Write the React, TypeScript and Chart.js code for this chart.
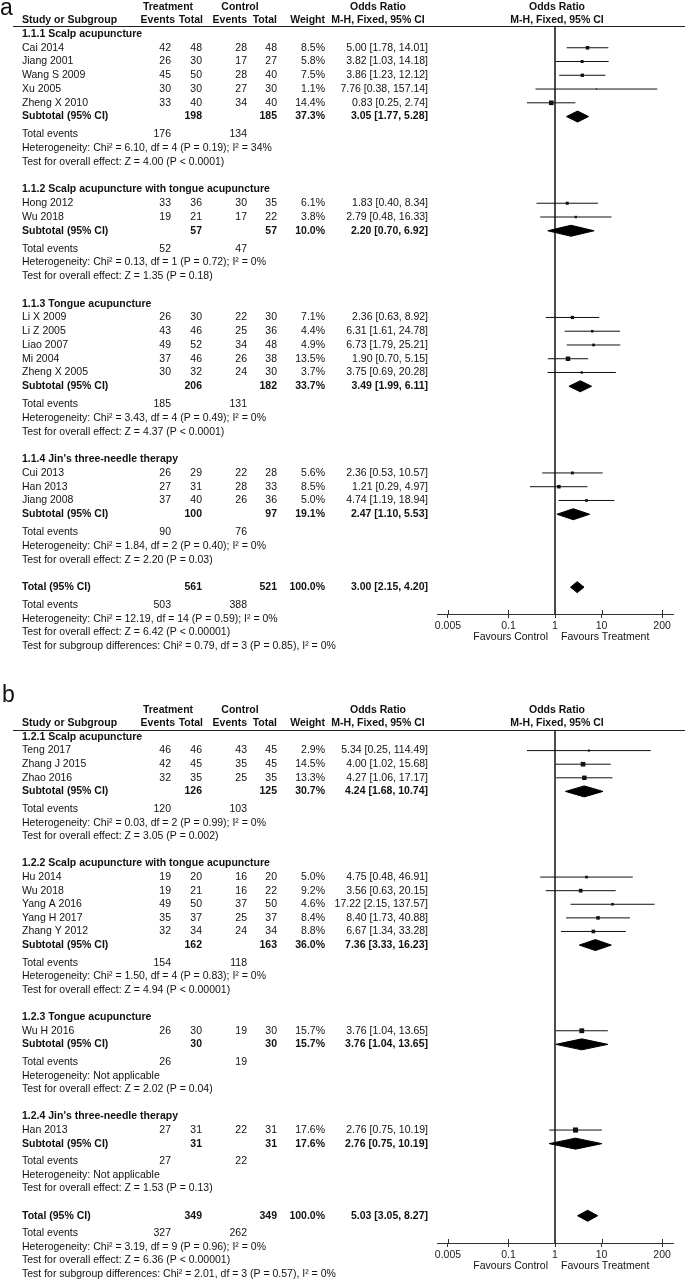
import React, { useEffect, useRef } from 'react';
import { Chart, registerables } from 'chart.js';
Chart.register(...registerables);

// ---------------- Panel a data ----------------
const aGroupTitles = ['1.1.1 Scalp acupuncture', '1.1.2 Scalp acupuncture with tongue acupuncture', '1.1.3 Tongue acupuncture', "1.1.4 Jin's three-needle therapy"];
const aStudies = ['Cai 2014', 'Jiang 2001', 'Wang S 2009', 'Xu 2005', 'Zheng X 2010', 'Hong 2012', 'Wu 2018', 'Li X 2009', 'Li Z 2005', 'Liao 2007', 'Mi 2004', 'Zheng X 2005', 'Cui 2013', 'Han 2013', 'Jiang 2008'];
const aStudyGroup = [0, 0, 0, 0, 0, 1, 1, 2, 2, 2, 2, 2, 3, 3, 3];
const aTrtEvents = [42, 26, 45, 30, 33, 33, 19, 26, 43, 49, 37, 30, 26, 27, 37];
const aTrtTotal = [48, 30, 50, 30, 40, 36, 21, 30, 46, 52, 46, 32, 29, 31, 40];
const aCtlEvents = [28, 17, 28, 27, 34, 30, 17, 22, 25, 34, 26, 24, 22, 28, 26];
const aCtlTotal = [48, 27, 40, 30, 40, 35, 22, 30, 36, 48, 38, 30, 28, 33, 36];
const aWeights = [8.5, 5.8, 7.5, 1.1, 14.4, 6.1, 3.8, 7.1, 4.4, 4.9, 13.5, 3.7, 5.6, 8.5, 5.0];
const aOR = [5.0, 3.82, 3.86, 7.76, 0.83, 1.83, 2.79, 2.36, 6.31, 6.73, 1.9, 3.75, 2.36, 1.21, 4.74];
const aLower = [1.78, 1.03, 1.23, 0.38, 0.25, 0.4, 0.48, 0.63, 1.61, 1.79, 0.7, 0.69, 0.53, 0.29, 1.19];
const aUpper = [14.01, 14.18, 12.12, 157.14, 2.74, 8.34, 16.33, 8.92, 24.78, 25.21, 5.15, 20.28, 10.57, 4.97, 18.94];
const aSubTrtTotal = [198, 57, 206, 100];
const aSubCtlTotal = [185, 57, 182, 97];
const aSubWeight = [37.3, 10.0, 33.7, 19.1];
const aSubOR = [3.05, 2.2, 3.49, 2.47];
const aSubLower = [1.77, 0.7, 1.99, 1.1];
const aSubUpper = [5.28, 6.92, 6.11, 5.53];
const aSubTrtEvents = [176, 52, 185, 90];
const aSubCtlEvents = [134, 47, 131, 76];
const aSubHet = [
  'Heterogeneity: Chi² = 6.10, df = 4 (P = 0.19); I² = 34%',
  'Heterogeneity: Chi² = 0.13, df = 1 (P = 0.72); I² = 0%',
  'Heterogeneity: Chi² = 3.43, df = 4 (P = 0.49); I² = 0%',
  'Heterogeneity: Chi² = 1.84, df = 2 (P = 0.40); I² = 0%',
];
const aSubTest = [
  'Test for overall effect: Z = 4.00 (P < 0.0001)',
  'Test for overall effect: Z = 1.35 (P = 0.18)',
  'Test for overall effect: Z = 4.37 (P < 0.0001)',
  'Test for overall effect: Z = 2.20 (P = 0.03)',
];
const aTotalN = [561, 521];
const aTotalCI = [3.0, 2.15, 4.2];
const aTotalEvents = [503, 388];
const aTotalTexts = [
  'Heterogeneity: Chi² = 12.19, df = 14 (P = 0.59); I² = 0%',
  'Test for overall effect: Z = 6.42 (P < 0.00001)',
  'Test for subgroup differences: Chi² = 0.79, df = 3 (P = 0.85), I² = 0%',
];

// ---------------- Panel b data ----------------
const bGroupTitles = ['1.2.1 Scalp acupuncture', '1.2.2 Scalp acupuncture with tongue acupuncture', '1.2.3 Tongue acupuncture', "1.2.4 Jin's three-needle therapy"];
const bStudies = ['Teng 2017', 'Zhang J 2015', 'Zhao 2016', 'Hu 2014', 'Wu 2018', 'Yang A 2016', 'Yang H 2017', 'Zhang Y 2012', 'Wu H 2016', 'Han 2013'];
const bStudyGroup = [0, 0, 0, 1, 1, 1, 1, 1, 2, 3];
const bTrtEvents = [46, 42, 32, 19, 19, 49, 35, 32, 26, 27];
const bTrtTotal = [46, 45, 35, 20, 21, 50, 37, 34, 30, 31];
const bCtlEvents = [43, 35, 25, 16, 16, 37, 25, 24, 19, 22];
const bCtlTotal = [45, 45, 35, 20, 22, 50, 37, 34, 30, 31];
const bWeights = [2.9, 14.5, 13.3, 5.0, 9.2, 4.6, 8.4, 8.8, 15.7, 17.6];
const bOR = [5.34, 4.0, 4.27, 4.75, 3.56, 17.22, 8.4, 6.67, 3.76, 2.76];
const bLower = [0.25, 1.02, 1.06, 0.48, 0.63, 2.15, 1.73, 1.34, 1.04, 0.75];
const bUpper = [114.49, 15.68, 17.17, 46.91, 20.15, 137.57, 40.88, 33.28, 13.65, 10.19];
const bSubTrtTotal = [126, 162, 30, 31];
const bSubCtlTotal = [125, 163, 30, 31];
const bSubWeight = [30.7, 36.0, 15.7, 17.6];
const bSubOR = [4.24, 7.36, 3.76, 2.76];
const bSubLower = [1.68, 3.33, 1.04, 0.75];
const bSubUpper = [10.74, 16.23, 13.65, 10.19];
const bSubTrtEvents = [120, 154, 26, 27];
const bSubCtlEvents = [103, 118, 19, 22];
const bSubHet = [
  'Heterogeneity: Chi² = 0.03, df = 2 (P = 0.99); I² = 0%',
  'Heterogeneity: Chi² = 1.50, df = 4 (P = 0.83); I² = 0%',
  'Heterogeneity: Not applicable',
  'Heterogeneity: Not applicable',
];
const bSubTest = [
  'Test for overall effect: Z = 3.05 (P = 0.002)',
  'Test for overall effect: Z = 4.94 (P < 0.00001)',
  'Test for overall effect: Z = 2.02 (P = 0.04)',
  'Test for overall effect: Z = 1.53 (P = 0.13)',
];
const bTotalN = [349, 349];
const bTotalCI = [5.03, 3.05, 8.27];
const bTotalEvents = [327, 262];
const bTotalTexts = [
  'Heterogeneity: Chi² = 3.19, df = 9 (P = 0.96); I² = 0%',
  'Test for overall effect: Z = 6.36 (P < 0.00001)',
  'Test for subgroup differences: Chi² = 2.01, df = 3 (P = 0.57), I² = 0%',
];

// axis ticks
const tickValues = [0.005, 0.1, 1, 10, 200];
const tickLabels = ['0.005', '0.1', '1', '10', '200'];

// ---------------- styling / layout ----------------
const FONT = '"Liberation Sans", Arial, Helvetica, sans-serif';
const FS = 10.5;
const TEXT = '#111';
const LINE = '#111';
const GAP = 0.3;
const X_MIN = 0.00291;
const X_MAX = 343;
const COL = { label: 22, te: 171, tt: 202, ce: 247, ct: 277, w: 325, ci: 428, teH: 175, ttH: 203, trtC: 168, ctlC: 240, orC: 378 };

const panelA = {
  letter: 'a', letterX: 0, letterY: 15, top: 0, height: 660, underline: 26, firstRow: 34, unit: 13.76, axis: 614,
  groupTitles: aGroupTitles, studies: aStudies, studyGroup: aStudyGroup, trtEvents: aTrtEvents, trtTotal: aTrtTotal,
  ctlEvents: aCtlEvents, ctlTotal: aCtlTotal, weights: aWeights, or: aOR, lower: aLower, upper: aUpper,
  subTrtTotal: aSubTrtTotal, subCtlTotal: aSubCtlTotal, subWeight: aSubWeight, subOR: aSubOR, subLower: aSubLower,
  subUpper: aSubUpper, subTrtEvents: aSubTrtEvents, subCtlEvents: aSubCtlEvents, subHet: aSubHet, subTest: aSubTest,
  totalN: aTotalN, totalCI: aTotalCI, totalEvents: aTotalEvents, totalTexts: aTotalTexts,
};
const panelB = {
  letter: 'b', letterX: 2, letterY: 42, top: 660, height: 621, underline: 70, firstRow: 77, unit: 13.6, axis: 583,
  groupTitles: bGroupTitles, studies: bStudies, studyGroup: bStudyGroup, trtEvents: bTrtEvents, trtTotal: bTrtTotal,
  ctlEvents: bCtlEvents, ctlTotal: bCtlTotal, weights: bWeights, or: bOR, lower: bLower, upper: bUpper,
  subTrtTotal: bSubTrtTotal, subCtlTotal: bSubCtlTotal, subWeight: bSubWeight, subOR: bSubOR, subLower: bSubLower,
  subUpper: bSubUpper, subTrtEvents: bSubTrtEvents, subCtlEvents: bSubCtlEvents, subHet: bSubHet, subTest: bSubTest,
  totalN: bTotalN, totalCI: bTotalCI, totalEvents: bTotalEvents, totalTexts: bTotalTexts,
};

type Row = { u: number; kind: string; idx: number };

function buildRows(p: any): Row[] {
  const rows: Row[] = [];
  let u = 0;
  p.groupTitles.forEach((_t: string, g: number) => {
    rows.push({ u, kind: 'group', idx: g }); u += 1;
    p.studyGroup.forEach((sg: number, i: number) => {
      if (sg === g) { rows.push({ u, kind: 'study', idx: i }); u += 1; }
    });
    rows.push({ u, kind: 'subtotal', idx: g }); u += 1 + GAP;
    rows.push({ u, kind: 'subEvents', idx: g }); u += 1;
    rows.push({ u, kind: 'subHet', idx: g }); u += 1;
    rows.push({ u, kind: 'subTest', idx: g }); u += 1;
    u += 1;
  });
  rows.push({ u, kind: 'total', idx: 0 }); u += 1 + GAP;
  rows.push({ u, kind: 'totEvents', idx: 0 }); u += 1;
  rows.push({ u, kind: 'totText', idx: 0 }); u += 1;
  rows.push({ u, kind: 'totText', idx: 1 }); u += 1;
  rows.push({ u, kind: 'totText', idx: 2 }); u += 1;
  return rows;
}

const ciText = (o: number, l: number, h: number) => `${o.toFixed(2)} [${l.toFixed(2)}, ${h.toFixed(2)}]`;
const pct = (w: number) => `${w.toFixed(1)}%`;

function diamond(o: number, l: number, h: number, u: number, hh: number) {
  return {
    data: [{ x: l, y: u }, { x: o, y: u - hh }, { x: h, y: u }, { x: o, y: u + hh }, { x: l, y: u }],
    showLine: true, fill: 'shape', backgroundColor: '#000', borderColor: '#000', borderWidth: 1,
    pointRadius: 0, tension: 0,
  };
}

function Panel({ p }: { p: any }) {
  const ref = useRef<HTMLCanvasElement>(null);
  useEffect(() => {
    const rows = buildRows(p);
    const yMin = (p.underline - p.firstRow) / p.unit;
    const yMax = (p.axis - p.firstRow) / p.unit;
    const hh = 5.5 / p.unit;
    const studyRows = rows.filter((r) => r.kind === 'study');
    const subRows = rows.filter((r) => r.kind === 'subtotal');
    const totRow = rows.find((r) => r.kind === 'total')!;

    const datasets: any[] = [];
    // squares (top-most)
    datasets.push({
      data: studyRows.map((r) => ({ x: p.or[r.idx], y: r.u })),
      pointStyle: 'rect',
      pointRadius: studyRows.map((r) => (1.22 * Math.sqrt(p.weights[r.idx])) / Math.SQRT2),
      backgroundColor: '#111', borderWidth: 0, showLine: false,
    });
    // diamonds
    subRows.forEach((r) => datasets.push(diamond(p.subOR[r.idx], p.subLower[r.idx], p.subUpper[r.idx], r.u, hh)));
    datasets.push(diamond(p.totalCI[0], p.totalCI[1], p.totalCI[2], totRow.u, hh));
    // CI lines
    studyRows.forEach((r) => datasets.push({
      data: [{ x: p.lower[r.idx], y: r.u }, { x: p.upper[r.idx], y: r.u }],
      showLine: true, borderColor: LINE, borderWidth: 1, pointRadius: 0,
    }));
    // null line
    datasets.push({ data: [{ x: 1, y: yMin }, { x: 1, y: yMax }], showLine: true, borderColor: '#333', borderWidth: 1, pointRadius: 0 });

    const textPlugin = {
      id: 'forestText',
      afterDraw(chart: any) {
        const ctx = chart.ctx;
        const ys = chart.scales.y;
        const xs = chart.scales.x;
        const area = chart.chartArea;
        const t = (s: string, x: number, u: number, align: CanvasTextAlign, bold = false) => {
          ctx.font = `${bold ? 'bold ' : ''}${FS}px ${FONT}`;
          ctx.textAlign = align;
          ctx.fillText(s, x, ys.getPixelForValue(u));
        };
        ctx.save();
        ctx.fillStyle = TEXT;
        ctx.textBaseline = 'middle';
        const px1 = xs.getPixelForValue(1);
        // headers
        t('Treatment', COL.trtC, -1.95, 'center', true);
        t('Control', COL.ctlC, -1.95, 'center', true);
        t('Odds Ratio', COL.orC, -1.95, 'center', true);
        t('Odds Ratio', px1 + 2, -1.95, 'center', true);
        t('Study or Subgroup', COL.label, -1, 'left', true);
        t('Events', COL.teH, -1, 'right', true);
        t('Total', COL.ttH, -1, 'right', true);
        t('Events', COL.ce, -1, 'right', true);
        t('Total', COL.ct, -1, 'right', true);
        t('Weight', COL.w, -1, 'right', true);
        t('M-H, Fixed, 95% CI', COL.orC, -1, 'center', true);
        t('M-H, Fixed, 95% CI', px1 + 2, -1, 'center', true);
        rows.forEach((r) => {
          const i = r.idx;
          if (r.kind === 'group') t(p.groupTitles[i], COL.label, r.u, 'left', true);
          else if (r.kind === 'study') {
            t(p.studies[i], COL.label, r.u, 'left');
            t(String(p.trtEvents[i]), COL.te, r.u, 'right');
            t(String(p.trtTotal[i]), COL.tt, r.u, 'right');
            t(String(p.ctlEvents[i]), COL.ce, r.u, 'right');
            t(String(p.ctlTotal[i]), COL.ct, r.u, 'right');
            t(pct(p.weights[i]), COL.w, r.u, 'right');
            t(ciText(p.or[i], p.lower[i], p.upper[i]), COL.ci, r.u, 'right');
          } else if (r.kind === 'subtotal') {
            t('Subtotal (95% CI)', COL.label, r.u, 'left', true);
            t(String(p.subTrtTotal[i]), COL.tt, r.u, 'right', true);
            t(String(p.subCtlTotal[i]), COL.ct, r.u, 'right', true);
            t(pct(p.subWeight[i]), COL.w, r.u, 'right', true);
            t(ciText(p.subOR[i], p.subLower[i], p.subUpper[i]), COL.ci, r.u, 'right', true);
          } else if (r.kind === 'subEvents') {
            t('Total events', COL.label, r.u, 'left');
            t(String(p.subTrtEvents[i]), COL.te, r.u, 'right');
            t(String(p.subCtlEvents[i]), COL.ce, r.u, 'right');
          } else if (r.kind === 'subHet') t(p.subHet[i], COL.label, r.u, 'left');
          else if (r.kind === 'subTest') t(p.subTest[i], COL.label, r.u, 'left');
          else if (r.kind === 'total') {
            t('Total (95% CI)', COL.label, r.u, 'left', true);
            t(String(p.totalN[0]), COL.tt, r.u, 'right', true);
            t(String(p.totalN[1]), COL.ct, r.u, 'right', true);
            t('100.0%', COL.w, r.u, 'right', true);
            t(ciText(p.totalCI[0], p.totalCI[1], p.totalCI[2]), COL.ci, r.u, 'right', true);
          } else if (r.kind === 'totEvents') {
            t('Total events', COL.label, r.u, 'left');
            t(String(p.totalEvents[0]), COL.te, r.u, 'right');
            t(String(p.totalEvents[1]), COL.ce, r.u, 'right');
          } else if (r.kind === 'totText') t(p.totalTexts[i], COL.label, r.u, 'left');
        });
        // favours labels
        ctx.font = `${FS}px ${FONT}`;
        ctx.textAlign = 'right';
        ctx.fillText('Favours Control', px1 - 7, area.bottom + 23);
        ctx.textAlign = 'left';
        ctx.fillText('Favours Treatment', px1 + 6, area.bottom + 23);
        // panel letter
        ctx.font = `23px ${FONT}`;
        ctx.textAlign = 'left';
        ctx.textBaseline = 'alphabetic';
        ctx.fillText(p.letter, p.letterX, p.letterY);
        // header underline
        ctx.strokeStyle = '#222';
        ctx.lineWidth = 1;
        ctx.beginPath();
        ctx.moveTo(13, Math.round(area.top) + 0.5);
        ctx.lineTo(685, Math.round(area.top) + 0.5);
        ctx.stroke();
        // upper half of tick marks
        ctx.strokeStyle = '#333';
        tickValues.forEach((v) => {
          const x = Math.round(xs.getPixelForValue(v)) + 0.5;
          ctx.beginPath();
          ctx.moveTo(x, area.bottom - 4);
          ctx.lineTo(x, area.bottom);
          ctx.stroke();
        });
        ctx.restore();
      },
    };

    const chart = new Chart(ref.current as HTMLCanvasElement, {
      type: 'scatter',
      data: { datasets },
      options: {
        animation: false,
        responsive: false,
        maintainAspectRatio: false,
        events: [],
        layout: { padding: { left: 437, right: 12, top: p.underline, bottom: 0 } },
        plugins: { legend: { display: false }, tooltip: { enabled: false } },
        scales: {
          x: {
            type: 'logarithmic',
            min: X_MIN,
            max: X_MAX,
            bounds: 'data',
            afterBuildTicks: (s: any) => { s.ticks = tickValues.map((v) => ({ value: v })); },
            afterFit: (s: any) => { s.height = p.height - p.axis; },
            ticks: {
              autoSkip: false, maxRotation: 0, padding: 2, color: '#222',
              font: { family: FONT, size: FS },
              callback: (_v: any, i: number) => tickLabels[i],
            },
            grid: { drawOnChartArea: false, drawTicks: true, tickLength: 4, color: '#333' },
            border: { display: true, color: '#333', width: 1 },
          },
          y: { type: 'linear', display: false, reverse: true, min: yMin, max: yMax },
        },
      } as any,
      plugins: [textPlugin],
    } as any);
    return () => chart.destroy();
  }, [p]);
  return (
    <canvas
      ref={ref}
      width={685}
      height={p.height}
      style={{ position: 'absolute', left: 0, top: p.top, width: 685, height: p.height, display: 'block' }}
    />
  );
}

export default function App() {
  return (
    <div style={{ position: 'absolute', left: 0, top: 0, width: 685, height: 1281, background: '#fff' }}>
      <Panel p={panelA} />
      <Panel p={panelB} />
    </div>
  );
}
